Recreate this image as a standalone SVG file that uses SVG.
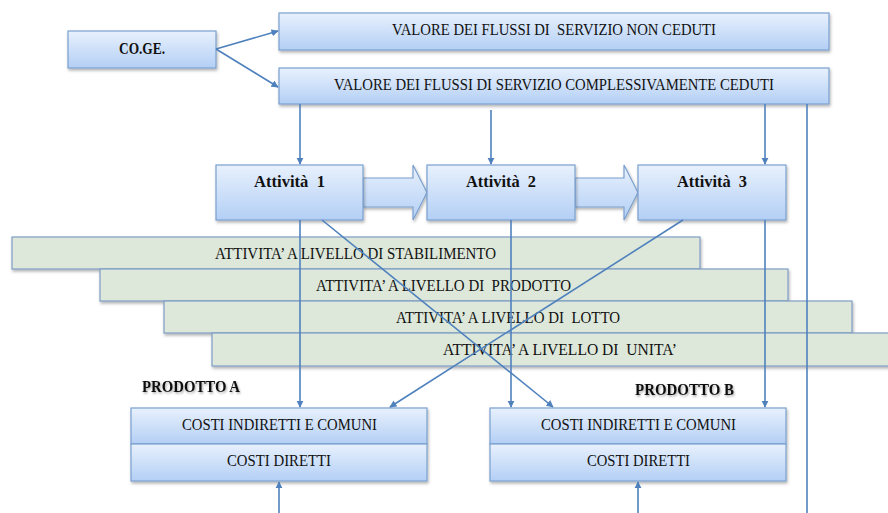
<svg xmlns="http://www.w3.org/2000/svg" width="888" height="513" viewBox="0 0 888 513">
<defs>
<linearGradient id="blue" x1="0" y1="0" x2="0" y2="1">
<stop offset="0" stop-color="#e8f1fd"/>
<stop offset="1" stop-color="#b3cff5"/>
</linearGradient>
<filter id="sh" x="-5%" y="-20%" width="110%" height="150%">
<feDropShadow dx="1" dy="2" stdDeviation="1.5" flood-color="#000" flood-opacity="0.3"/>
</filter>
<filter id="tsh" x="-10%" y="-30%" width="120%" height="160%">
<feDropShadow dx="1" dy="1.5" stdDeviation="1" flood-color="#000" flood-opacity="0.35"/>
</filter>
<marker id="ah" viewBox="0 0 10 10" refX="9" refY="5" markerWidth="4.5" markerHeight="4.5" orient="auto-start-reverse" markerUnits="strokeWidth">
<path d="M0,0 L10,5 L0,10 Z" fill="#4f81bd"/>
</marker>
</defs>
<style>
.box{fill:url(#blue);stroke:#7aa0cf;stroke-width:1.2;filter:url(#sh)}
.row{fill:url(#blue);stroke:#7aa0cf;stroke-width:1.2}
.bar{fill:#dde8da;stroke:#7f9dc6;stroke-width:1.2;filter:url(#sh)}
.t{font-family:"Liberation Serif",serif;font-size:16.5px;fill:#111}
.b{font-family:"Liberation Serif",serif;font-size:16.5px;font-weight:bold;fill:#111}
.c{stroke:#4f81bd;stroke-width:1.6;fill:none}
.ca{stroke:#4f81bd;stroke-width:1.6;fill:none;marker-end:url(#ah)}
</style>
<rect width="888" height="513" fill="#fff"/>

<g id="coge"><rect class="box" x="68" y="31" width="148" height="37"/><text class="b" x="119" y="54" textLength="46" lengthAdjust="spacingAndGlyphs">CO.GE.</text></g>
<g id="nonceduti"><rect class="box" x="279" y="13" width="550" height="37"/><text class="t" x="392" y="35" textLength="324" lengthAdjust="spacingAndGlyphs" xml:space="preserve">VALORE DEI FLUSSI DI  SERVIZIO NON CEDUTI</text></g>
<g id="ceduti"><rect class="box" x="279" y="68" width="550" height="36"/><text class="t" x="334" y="90" textLength="440" lengthAdjust="spacingAndGlyphs">VALORE DEI FLUSSI DI SERVIZIO COMPLESSIVAMENTE CEDUTI</text></g>

<g id="blockarrows">
<path class="box" d="M363,178 H413 V165 L427,192.5 L413,220 V207 H363 Z"/>
<path class="box" d="M575,178 H624 V165 L638,192.5 L624,220 V207 H575 Z"/>
</g>

<g id="att1"><rect class="box" x="216" y="165" width="147" height="55"/><text class="b" x="254" y="187" textLength="71" lengthAdjust="spacingAndGlyphs" xml:space="preserve">Attività  1</text></g>
<g id="att2"><rect class="box" x="427" y="165" width="148" height="55"/><text class="b" x="466" y="187" textLength="70" lengthAdjust="spacingAndGlyphs" xml:space="preserve">Attività  2</text></g>
<g id="att3"><rect class="box" x="638" y="165" width="148" height="55"/><text class="b" x="677" y="187" textLength="70" lengthAdjust="spacingAndGlyphs" xml:space="preserve">Attività  3</text></g>

<g id="bar1"><rect class="bar" x="12" y="237" width="688" height="32"/><text class="t" x="215" y="259" textLength="281" lengthAdjust="spacingAndGlyphs">ATTIVITA’ A LIVELLO DI STABILIMENTO</text></g>
<g id="bar2"><rect class="bar" x="100" y="269" width="688" height="32"/><text class="t" x="316" y="291" textLength="255" lengthAdjust="spacingAndGlyphs" xml:space="preserve">ATTIVITA’ A LIVELLO DI  PRODOTTO</text></g>
<g id="bar3"><rect class="bar" x="164" y="301" width="688" height="32"/><text class="t" x="396" y="323" textLength="224" lengthAdjust="spacingAndGlyphs" xml:space="preserve">ATTIVITA’ A LIVELLO DI  LOTTO</text></g>
<g id="bar4"><rect class="bar" x="212" y="333" width="690" height="33"/><text class="t" x="443" y="355" textLength="234" lengthAdjust="spacingAndGlyphs" xml:space="preserve">ATTIVITA’ A LIVELLO DI  UNITA’</text></g>

<g id="costiA"><g filter="url(#sh)"><rect class="row" x="131" y="408" width="296" height="36"/><rect class="row" x="131" y="444" width="296" height="37"/></g><text class="t" x="182" y="430" textLength="195" lengthAdjust="spacingAndGlyphs">COSTI INDIRETTI E COMUNI</text><text class="t" x="227" y="466" textLength="104" lengthAdjust="spacingAndGlyphs">COSTI DIRETTI</text></g>
<g id="costiB"><g filter="url(#sh)"><rect class="row" x="490" y="408" width="296" height="36"/><rect class="row" x="490" y="444" width="296" height="37"/></g><text class="t" x="541" y="430" textLength="195" lengthAdjust="spacingAndGlyphs">COSTI INDIRETTI E COMUNI</text><text class="t" x="587" y="466" textLength="103" lengthAdjust="spacingAndGlyphs">COSTI DIRETTI</text></g>

<g id="prodA"><text class="b" x="142" y="392" textLength="98" lengthAdjust="spacingAndGlyphs" filter="url(#tsh)">PRODOTTO A</text></g>
<g id="prodB"><text class="b" x="635" y="395" textLength="99" lengthAdjust="spacingAndGlyphs" filter="url(#tsh)">PRODOTTO B</text></g>

<g id="connectors">
<line class="ca" x1="216" y1="49" x2="278" y2="31"/>
<line class="ca" x1="216" y1="49" x2="278" y2="87"/>
<line class="ca" x1="300" y1="104" x2="300" y2="164"/>
<line class="ca" x1="491" y1="110" x2="491" y2="164"/>
<line class="ca" x1="765" y1="104" x2="765" y2="164"/>
<line class="c" x1="807" y1="104" x2="807" y2="513"/>
<line class="ca" x1="300" y1="220" x2="300" y2="407"/>
<line class="ca" x1="511" y1="220" x2="511" y2="407"/>
<line class="ca" x1="765" y1="220" x2="765" y2="407"/>
<line class="ca" x1="322" y1="220" x2="553" y2="407"/>
<line class="ca" x1="683" y1="220" x2="390" y2="407"/>
<line class="ca" x1="279" y1="513" x2="279" y2="482"/>
<line class="ca" x1="638" y1="513" x2="638" y2="482"/>
</g>
</svg>
